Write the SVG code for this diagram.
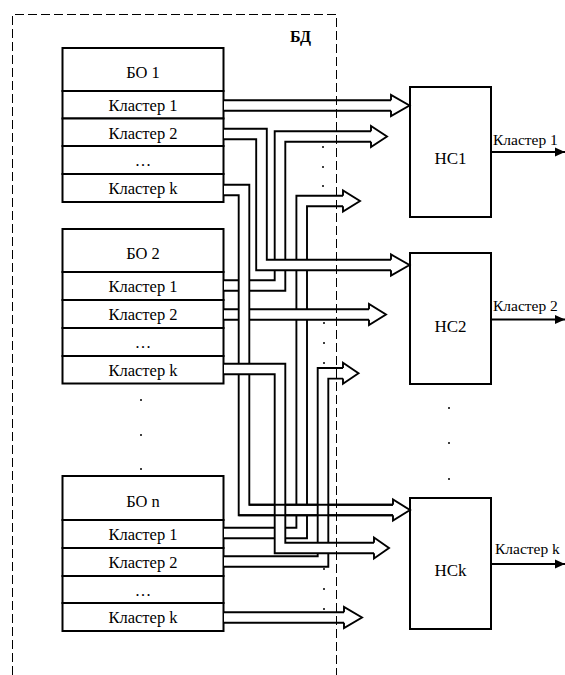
<svg xmlns="http://www.w3.org/2000/svg" width="565" height="675" viewBox="0 0 565 675" font-family="'Liberation Serif', 'DejaVu Serif', serif">
<style>
text{font-family:"Liberation Serif","DejaVu Serif",serif;fill:#000}
.t{font-size:16.5px;text-anchor:middle}
.hc{font-size:17px;text-anchor:middle}
.lbl{font-size:15.5px}
.bd{font-size:16px;font-weight:bold}
.box{fill:#fff;stroke:#000;stroke-width:2}
.bk{fill:none;stroke:#000;stroke-width:12.5;stroke-linejoin:miter}
.wh{fill:none;stroke:#fff;stroke-width:8.7;stroke-linejoin:miter}
.hd{fill:#fff;stroke:#000;stroke-width:1.9;stroke-linejoin:miter}
.ln{stroke:#000;stroke-width:1.9;fill:none}
.dash{fill:none;stroke:#000;stroke-width:1;stroke-dasharray:9 4}
.out{stroke:#000;stroke-width:2;fill:none}
.dot{fill:#000}
</style>
<defs>
<marker id="ah" markerUnits="userSpaceOnUse" markerWidth="11" markerHeight="11" refX="10" refY="5.5" orient="auto">
<path d="M0,1 L10,5.5 L0,10 Z" fill="#000"/>
</marker>
</defs>

<g id="bo1">
<rect class="box" x="62.5" y="48" width="161" height="43"/>
<rect class="box" x="62.5" y="91" width="161" height="27.5"/>
<rect class="box" x="62.5" y="118.5" width="161" height="27.5"/>
<rect class="box" x="62.5" y="146" width="161" height="28"/>
<rect class="box" x="62.5" y="174" width="161" height="28"/>
<text class="t" x="143" y="78">БО 1</text>
<text class="t" x="143" y="111">Кластер 1</text>
<text class="t" x="143" y="138.5">Кластер 2</text>
<text class="t" x="143" y="166">…</text>
<text class="t" x="143" y="194">Кластер k</text>
</g>

<g id="bo2">
<rect class="box" x="62.5" y="229" width="161" height="43"/>
<rect class="box" x="62.5" y="272" width="161" height="28"/>
<rect class="box" x="62.5" y="300" width="161" height="28"/>
<rect class="box" x="62.5" y="328" width="161" height="28"/>
<rect class="box" x="62.5" y="356" width="161" height="27.5"/>
<text class="t" x="143" y="259">БО 2</text>
<text class="t" x="143" y="292">Кластер 1</text>
<text class="t" x="143" y="320">Кластер 2</text>
<text class="t" x="143" y="348">…</text>
<text class="t" x="143" y="376">Кластер k</text>
</g>

<g id="bon">
<rect class="box" x="62.5" y="476" width="161" height="44"/>
<rect class="box" x="62.5" y="520" width="161" height="28"/>
<rect class="box" x="62.5" y="548" width="161" height="28"/>
<rect class="box" x="62.5" y="576" width="161" height="27"/>
<rect class="box" x="62.5" y="603" width="161" height="28"/>
<text class="t" x="143" y="506.5">БО n</text>
<text class="t" x="143" y="540">Кластер 1</text>
<text class="t" x="143" y="568">Кластер 2</text>
<text class="t" x="143" y="595.5">…</text>
<text class="t" x="143" y="623">Кластер k</text>
</g>

<g id="hc1">
<rect class="box" x="410" y="87" width="81" height="130"/>
<text class="hc" x="450.5" y="164">НС1</text>
</g>
<g id="hc2">
<rect class="box" x="410" y="253" width="81" height="131"/>
<text class="hc" x="450.5" y="332">НС2</text>
</g>
<g id="hck">
<rect class="box" x="410" y="498" width="81" height="131"/>
<text class="hc" x="450.5" y="576">НСk</text>
</g>

<g id="connectors">
<path class="bk" d="M224,533 H301.7 V201 H343"/>
<path class="wh" d="M224,533 H301.7 V201 H343"/>
<path class="hd" d="M343,195.75 L343,190.5 L360,201 L343,211.5 L343,206.25"/>
<path class="bk" d="M224,285.5 H280 V136.5 H371"/>
<path class="wh" d="M224,285.5 H280 V136.5 H371"/>
<path class="hd" d="M371,131.25 L371,126 L387,136.5 L371,147 L371,141.75"/>
<path class="bk" d="M224,314.5 H369"/>
<path class="wh" d="M224,314.5 H369"/>
<path class="hd" d="M369,309.25 L369,304 L386,314.5 L369,325 L369,319.75"/>
<path class="bk" d="M224,134 H261.5 V265 H391"/>
<path class="wh" d="M224,134 H261.5 V265 H391"/>
<path class="hd" d="M391,259.75 L391,254.5 L409.5,265 L391,275.5 L391,270.25"/>
<path class="bk" d="M224,190 H244 V510 H393"/>
<path class="wh" d="M224,190 H244 V510 H393"/>
<path class="hd" d="M393,504.75 L393,499.5 L410,510 L393,520.5 L393,515.25"/>
<path class="bk" d="M224,561.5 H323 V373.3 H343"/>
<path class="wh" d="M224,561.5 H323 V373.3 H343"/>
<path class="hd" d="M343,368.05 L343,362.8 L358.5,373.3 L343,383.8 L343,378.55"/>
<path class="bk" d="M224,369 H280 V548 H374"/>
<path class="wh" d="M224,369 H280 V548 H374"/>
<path class="hd" d="M374,542.75 L374,537.5 L389,548 L374,558.5 L374,553.25"/>
<path class="bk" d="M224,105.5 H391"/>
<path class="wh" d="M224,105.5 H391"/>
<path class="hd" d="M391,100.25 L391,95 L409.5,105.5 L391,116 L391,110.75"/>
<path class="bk" d="M224,617.5 H344"/>
<path class="wh" d="M224,617.5 H344"/>
<path class="hd" d="M344,612.25 L344,607 L362,617.5 L344,628 L344,622.75"/>
<line class="ln" x1="249.25" y1="504.75" x2="393" y2="504.75"/>
<line class="ln" x1="238.75" y1="515.25" x2="393" y2="515.25"/>
<line class="out" x1="491" y1="152" x2="565" y2="152" marker-end="url(#ah)"/>
<line class="out" x1="491" y1="319.5" x2="565" y2="319.5" marker-end="url(#ah)"/>
<line class="out" x1="491" y1="564" x2="565" y2="564" marker-end="url(#ah)"/>
</g>

<g id="labels">
<text class="lbl" x="493" y="145">Кластер 1</text>
<text class="lbl" x="493" y="311">Кластер 2</text>
<text class="lbl" x="495" y="554">Кластер k</text>
<text class="bd" x="290" y="42">БД</text>
</g>

<g id="dots">
<circle class="dot" cx="323" cy="147" r="1"/>
<circle class="dot" cx="323" cy="167" r="1"/>
<circle class="dot" cx="323" cy="186" r="1"/>
<circle class="dot" cx="324" cy="323" r="1"/>
<circle class="dot" cx="324" cy="343" r="1"/>
<circle class="dot" cx="324" cy="363" r="1"/>
<circle class="dot" cx="324" cy="569" r="1"/>
<circle class="dot" cx="324" cy="589" r="1"/>
<circle class="dot" cx="324" cy="609" r="1"/>
<circle class="dot" cx="449" cy="408" r="1"/>
<circle class="dot" cx="449" cy="443" r="1"/>
<circle class="dot" cx="449" cy="479" r="1"/>
<circle class="dot" cx="141" cy="400" r="1"/>
<circle class="dot" cx="141" cy="435" r="1"/>
<circle class="dot" cx="141" cy="469" r="1"/>
</g>

<path id="bd-border" class="dash" d="M12.5,675 V14.5 H336.5 V675"/>
</svg>
